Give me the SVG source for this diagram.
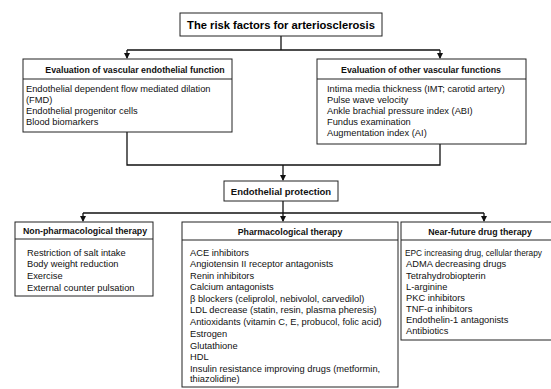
<svg xmlns="http://www.w3.org/2000/svg" width="551" height="389" viewBox="0 0 551 389">
<style>
.box{fill:#fff;stroke:#222;stroke-width:1}
.sep{stroke:#222;stroke-width:1}
.t{font-family:"Liberation Sans",Arial,sans-serif;font-size:9.3px;fill:#111}
.h{font-family:"Liberation Sans",Arial,sans-serif;font-size:8.8px;font-weight:bold;fill:#111;text-anchor:middle}
.big{font-family:"Liberation Sans",Arial,sans-serif;font-size:11.2px;font-weight:bold;fill:#000;text-anchor:middle}
.c{fill:none;stroke:#111;stroke-width:1.3}
</style>
<defs>
<marker id="ah" markerWidth="6" markerHeight="6" refX="5" refY="3" orient="auto" markerUnits="userSpaceOnUse">
<path d="M0,0 L6,3 L0,6 Z" fill="#111"/>
</marker>
</defs>
<rect width="551" height="389" fill="#fff"/>
<g id="connectors">
<path class="c" d="M281,36 V50"/>
<path class="c" d="M127,50 H440"/>
<path class="c" d="M127,50 V58" marker-end="url(#ah)"/>
<path class="c" d="M440,50 V58" marker-end="url(#ah)"/>
<path class="c" d="M127,132 V165 H440 V144"/>
<path class="c" d="M283,165 V180" marker-end="url(#ah)"/>
<path class="c" d="M283,201 V213"/>
<path class="c" d="M83,213 H484"/>
<path class="c" d="M83,213 V221" marker-end="url(#ah)"/>
<path class="c" d="M283,213 V221" marker-end="url(#ah)"/>
<path class="c" d="M484,213 V221" marker-end="url(#ah)"/>
</g>
<g id="title">
<rect class="box" x="180" y="13" width="202" height="23"/>
<text class="big" x="281" y="28.8">The risk factors for arteriosclerosis</text>
</g>
<g id="vascular-endothelial">
<rect class="box" x="23" y="59" width="209" height="73"/>
<line class="sep" x1="23" y1="79" x2="232" y2="79"/>
<text class="h" x="135" y="72.5">Evaluation of vascular endothelial function</text>
<text class="t" x="26" y="92">Endothelial dependent flow mediated dilation</text>
<text class="t" x="26" y="103">(FMD)</text>
<text class="t" x="26" y="114">Endothelial progenitor cells</text>
<text class="t" x="26" y="125">Blood biomarkers</text>
</g>
<g id="other-vascular">
<rect class="box" x="317" y="59" width="209" height="85"/>
<line class="sep" x1="317" y1="79" x2="526" y2="79"/>
<text class="h" x="421" y="72.5">Evaluation of other vascular functions</text>
<text class="t" x="327" y="92">Intima media thickness (IMT; carotid artery)</text>
<text class="t" x="327" y="103">Pulse wave velocity</text>
<text class="t" x="327" y="114">Ankle brachial pressure index (ABI)</text>
<text class="t" x="327" y="125">Fundus examination</text>
<text class="t" x="327" y="136">Augmentation index (AI)</text>
</g>
<g id="endothelial-protection">
<rect class="box" x="224" y="181" width="114" height="20"/>
<text class="h" x="281" y="194.5" style="font-size:9.5px">Endothelial protection</text>
</g>
<g id="non-pharmacological">
<rect class="box" x="15" y="222" width="138" height="74"/>
<line class="sep" x1="15" y1="239" x2="153" y2="239"/>
<text class="h" x="85" y="234">Non-pharmacological therapy</text>
<text class="t" x="27" y="255.5">Restriction of salt intake</text>
<text class="t" x="27" y="267">Body weight reduction</text>
<text class="t" x="27" y="278.5">Exercise</text>
<text class="t" x="27" y="290.5">External counter pulsation</text>
</g>
<g id="pharmacological">
<rect class="box" x="182" y="222" width="216" height="165"/>
<line class="sep" x1="182" y1="240" x2="398" y2="240"/>
<text class="h" x="290" y="234.5">Pharmacological therapy</text>
<text class="t" x="190" y="255.5">ACE inhibitors</text>
<text class="t" x="190" y="267">Angiotensin II receptor antagonists</text>
<text class="t" x="190" y="278.5">Renin inhibitors</text>
<text class="t" x="190" y="290">Calcium antagonists</text>
<text class="t" x="190" y="301.5">β blockers (celiprolol, nebivolol, carvedilol)</text>
<text class="t" x="190" y="313">LDL decrease (statin, resin, plasma pheresis)</text>
<text class="t" x="190" y="324.5">Antioxidants (vitamin C, E, probucol, folic acid)</text>
<text class="t" x="190" y="337">Estrogen</text>
<text class="t" x="190" y="348.5">Glutathione</text>
<text class="t" x="190" y="360">HDL</text>
<text class="t" x="190" y="371.5">Insulin resistance improving drugs (metformin,</text>
<text class="t" x="190" y="382">thiazolidine)</text>
</g>
<g id="near-future">
<rect class="box" x="401" y="222" width="160" height="118"/>
<line class="sep" x1="401" y1="240" x2="561" y2="240"/>
<text class="h" x="480" y="234.5">Near-future drug therapy</text>
<text class="t" x="405" y="256" style="font-size:8.3px">EPC increasing drug, cellular therapy</text>
<text class="t" x="406" y="267">ADMA decreasing drugs</text>
<text class="t" x="406" y="278.5">Tetrahydrobiopterin</text>
<text class="t" x="406" y="289.5">L-arginine</text>
<text class="t" x="406" y="300.5">PKC inhibitors</text>
<text class="t" x="406" y="311.5">TNF-α inhibitors</text>
<text class="t" x="406" y="322.5">Endothelin-1 antagonists</text>
<text class="t" x="406" y="333.5">Antibiotics</text>
</g>
</svg>
